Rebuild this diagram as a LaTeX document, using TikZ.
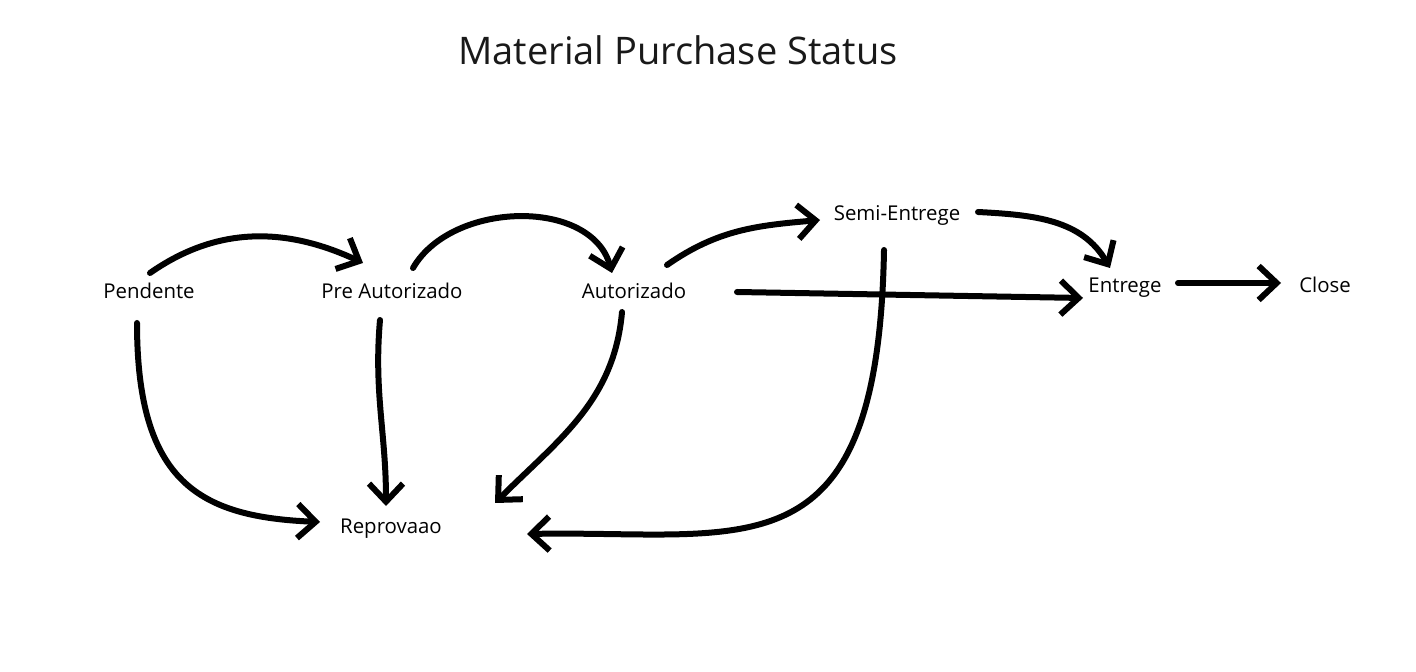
\documentclass[tikz,border=0pt]{standalone}
\usepackage{fontspec}
\setmainfont{Open Sans}
\usepackage{tikz}
\usetikzlibrary{arrows.meta}
\tikzset{
    status_node/.style = {anchor=base, inner sep=0pt, font=\fontsize{10.2}{12}\selectfont},
    title_node/.style = {anchor=base, inner sep=0pt, font=\fontsize{19}{22}\selectfont, black!90},
    flow_edge/.style = {->, line width=3pt, line cap=round, line join=round}
}

\begin{document}
\begin{tikzpicture}[x=0.5pt, y=0.5pt, >={Straight Barb[length=9pt,width=17pt]}]
    \useasboundingbox (0,0) rectangle (1416,-672);
    % title
    \node [title_node] (title) at (678,-65) {Material Purchase Status};
    % states
    \node [status_node] (pend) at (149,-299) {Pendente};
    \node [status_node] (preaut) at (392,-299) {Pre Autorizado};
    \node [status_node] (aut) at (634,-299) {Autorizado};
    \node [status_node] (semi) at (897,-221) {Semi-Entrege};
    \node [status_node] (ent) at (1125,-293) {Entrege};
    \node [status_node] (close) at (1325,-293) {Close};
    \node [status_node] (repr) at (391,-533) {Reprovaao};
    % forward flow
    \draw [flow_edge] ([shift={(1,26)}]pend.base) to[out=35,in=155] ([shift={(-29,36)}]preaut.base);
    \draw [flow_edge] ([shift={(21,31)}]preaut.base) to[out=60,in=105] ([shift={(-22,26)}]aut.base);
    \draw [flow_edge] ([shift={(33,34)}]aut.base) to[out=35,in=185] ([shift={(-77,1)}]semi.base);
    \draw [flow_edge] ([shift={(81,9)}]semi.base) to[out=-3,in=120] ([shift={(-15,25)}]ent.base);
    \draw [flow_edge] ([shift={(103,7)}]aut.base) -- ([shift={(-42,-5)}]ent.base);
    \draw [flow_edge] ([shift={(53,10)}]ent.base) -- ([shift={(-44,10)}]close.base);
    % rejections
    \draw [flow_edge] ([shift={(-12,-24)}]pend.base) .. controls +(0,-160) and +(-120,5) .. ([shift={(-71,11)}]repr.base);
    \draw [flow_edge] ([shift={(-12,-21)}]preaut.base) to[out=-95,in=90] ([shift={(-5,27)}]repr.base);
    \draw [flow_edge] ([shift={(-12,-13)}]aut.base) to[out=-95,in=45] ([shift={(104,30)}]repr.base);
    \draw [flow_edge] ([shift={(-13,-29)}]semi.base) .. controls +(-6,-330) and +(220,4) .. ([shift={(136,-1)}]repr.base);
\end{tikzpicture}
\end{document}
